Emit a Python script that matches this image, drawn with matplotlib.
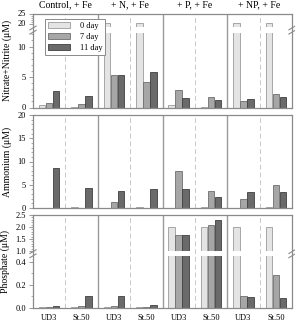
import numpy as np
import matplotlib
matplotlib.use("Agg")
from matplotlib import pyplot as plt
from matplotlib.ticker import FixedLocator, FixedFormatter

plt.rcParams['font.family'] = ['Liberation Serif', 'DejaVu Serif']

# data
panels = ['Control, + Fe', '+ N, + Fe', '+ P, + Fe', '+ NP, + Fe']
sites = ['UD3', 'St.50'] * 4
days = ['0 day', '7 day', '11 day']

nox_0 = [0.45, 0.05, 20.4, 20.4, 0.45, 0.1, 20.4, 20.4]
nox_7 = [0.75, 0.5, 5.4, 4.15, 2.8, 1.7, 1.0, 2.2]
nox_11 = [2.65, 1.9, 5.3, 5.8, 1.6, 1.15, 1.4, 1.7]

nh4_0 = [0.0, 0.3, 0.0, 0.3, 0.0, 0.3, 0.0, 0.3]
nh4_7 = [0.0, 0.08, 1.35, 0.05, 8.0, 3.7, 2.0, 4.9]
nh4_11 = [8.5, 4.4, 3.65, 4.0, 4.0, 2.3, 3.4, 3.4]

po4_0 = [0.01, 0.01, 0.01, 0.01, 2.0, 2.0, 2.0, 2.0]
po4_7 = [0.012, 0.02, 0.02, 0.012, 1.68, 2.07, 0.105, 0.285]
po4_11 = [0.015, 0.1, 0.1, 0.025, 1.65, 2.3, 0.095, 0.09]

face = ['#e4e4e4', '#a6a6a6', '#6a6a6a']
edge = ['#9a9a9a', '#6e6e6e', '#404040']
frame = '#8a8a8a'


def piecewise(vals, pos):
    vals = np.asarray(vals, float)
    pos = np.asarray(pos, float)

    def fwd(v):
        v = np.asarray(v, float)
        out = np.interp(v, vals, pos)
        lo = (pos[1] - pos[0]) / (vals[1] - vals[0])
        hi = (pos[-1] - pos[-2]) / (vals[-1] - vals[-2])
        out = np.where(v < vals[0], pos[0] + (v - vals[0]) * lo, out)
        out = np.where(v > vals[-1], pos[-1] + (v - vals[-1]) * hi, out)
        return out

    def inv(p):
        p = np.asarray(p, float)
        out = np.interp(p, pos, vals)
        lo = (vals[1] - vals[0]) / (pos[1] - pos[0])
        hi = (vals[-1] - vals[-2]) / (pos[-1] - pos[-2])
        out = np.where(p < pos[0], vals[0] + (p - pos[0]) * lo, out)
        out = np.where(p > pos[-1], vals[-1] + (p - pos[-1]) * hi, out)
        return out

    return fwd, inv


fig = plt.figure(figsize=(2.95, 3.24), dpi=100)
W, H = 295.0, 324.0
left, right = 33 / W, 292 / W
rows = [(13.5, 107.5), (115, 208), (215, 308)]
axes = []
for top, bot in rows:
    axes.append(fig.add_axes([left, 1 - bot / H, right - left, (bot - top) / H]))

x = np.arange(8)
bw = 0.2
offs = [-0.215, 0.0, 0.215]

row_data = [
    (nox_0, nox_7, nox_11),
    (nh4_0, nh4_7, nh4_11),
    (po4_0, po4_7, po4_11),
]
ylabels = ['Nitrate+Nitrite (\u03bcM)', 'Ammonium (\u03bcM)', 'Phosphate (\u03bcM)']

# scale breaks
breaks = [
    ([0, 12.3, 18.15, 25], [0, 75, 80.3, 94], (12.3, 18.15)),
    None,
    ([0, 0.45, 1.0, 2.5], [0, 52, 57, 93], (0.45, 1.0)),
]
ylims = [(0, 25), (0, 20), (0, 2.5)]
majors = [[0, 5, 10, 20, 25], [0, 5, 10, 15, 20], [0.0, 0.2, 0.4, 1.0, 1.5, 2.0, 2.5]]
major_lbl = [['0', '5', '10', '20', '25'], ['0', '5', '10', '15', '20'],
             ['0.0', '0.2', '0.4', '1.0', '1.5', '2.0', '2.5']]
minors = [
    [1, 2, 3, 4, 6, 7, 8, 9, 11, 12, 21, 22, 23, 24],
    [i for i in range(1, 20) if i % 5],
    [0.1, 0.3] + [round(1.0 + 0.1 * i, 2) for i in range(1, 15) if i % 5],
]

for r, ax in enumerate(axes):
    d0, d7, d11 = row_data[r]
    for k, vals in enumerate([d0, d7, d11]):
        ax.bar(x + offs[k], vals, bw, color=face[k], edgecolor=edge[k],
               linewidth=0.6, label=days[k], zorder=1)
    if breaks[r] is not None:
        vals_b, pos_b, gap = breaks[r]
        fwd, inv = piecewise(vals_b, pos_b)
        ax.set_yscale('function', functions=(fwd, inv))
        ax.axhspan(gap[0], gap[1], color='white', zorder=1.5, lw=0)
        yc = (fwd(gap[0]) + fwd(gap[1])) / 2 / pos_b[-1]
        for xs in (0, 1):
            for dy in (-0.025, 0.02):
                ax.plot([xs - 0.012, xs + 0.012], [yc + dy - 0.02, yc + dy + 0.02],
                        transform=ax.transAxes, color=frame, lw=0.8,
                        clip_on=False, zorder=5)
    ax.set_ylim(*ylims[r])
    ax.set_xlim(-0.5, 7.5)
    for xv in [1.5, 3.5, 5.5]:
        ax.axvline(xv, color='#9a9a9a', lw=1.0, zorder=2)
    for xv in [0.5, 2.5, 4.5, 6.5]:
        ax.axvline(xv, color='#c8c8c8', lw=0.7, ls=(0, (5, 3)), zorder=2)
    ax.yaxis.set_major_locator(FixedLocator(majors[r]))
    ax.yaxis.set_major_formatter(FixedFormatter(major_lbl[r]))
    ax.yaxis.set_minor_locator(FixedLocator(minors[r]))
    ax.tick_params(axis='y', which='major', length=3, width=0.6, color=frame,
                   labelsize=6, pad=2)
    ax.tick_params(axis='y', which='minor', length=1.5, width=0.5, color=frame)
    ax.set_ylabel(ylabels[r], fontsize=7, labelpad=4)
    for s in ax.spines.values():
        s.set_color(frame)
        s.set_linewidth(0.9)
    ax.set_xticks(x)
    if r == 2:
        ax.set_xticklabels(sites, fontsize=6)
        ax.tick_params(axis='x', length=0, pad=4)
    else:
        ax.tick_params(axis='x', length=0, labelbottom=False)

for i, name in enumerate(panels):
    axes[0].text(2 * i + 0.5, 1.045, name, transform=axes[0].get_xaxis_transform(),
                 ha='center', va='bottom', fontsize=7)

leg = axes[0].legend(loc='upper left', bbox_to_anchor=(0.03, 0.985), fontsize=6,
                     handlelength=2.6, handleheight=0.8, labelspacing=0.35,
                     borderpad=0.35, handletextpad=1.2, fancybox=False,
                     edgecolor=frame, framealpha=1, markerfirst=True)
for t in leg.get_texts():
    t.set_ha('right')
leg.get_frame().set_linewidth(0.7)

fig.savefig('out.png', dpi=100)
